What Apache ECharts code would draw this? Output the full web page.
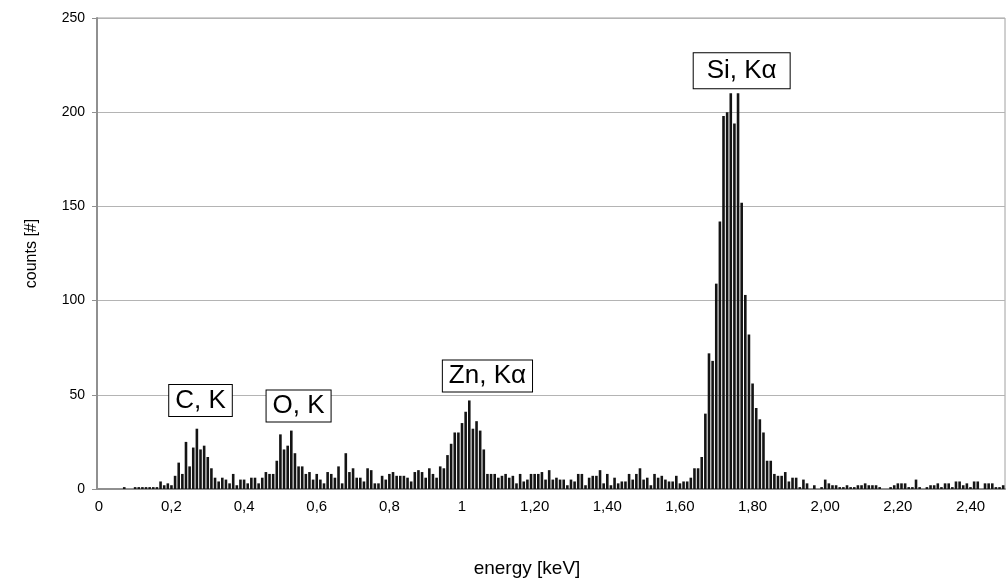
<!DOCTYPE html>
<html style="height: 100%">
<head>
<meta charset="utf-8">
<script src="https://cdn.jsdelivr.net/npm/echarts@6/dist/echarts.min.js"></script>
</head>
<body style="height: 100%; margin: 0; background: #fff">
<div id="container" style="width: 1008px; height: 579px"></div>
<script>
// counts per 0.01 keV channel, channel 0 = 0.00 keV
var counts = [
  0, 0, 0, 0, 0, 0, 0, 1, 0, 0,
  1, 1, 1, 1, 1, 1, 1, 4, 2, 3,
  2, 7, 14, 8, 25, 12, 22, 32, 21, 23,
  17, 11, 6, 4, 6, 5, 3, 8, 2, 5,
  5, 3, 6, 6, 3, 6, 9, 8, 8, 15,
  29, 21, 23, 31, 19, 12, 12, 8, 9, 5,
  8, 5, 3, 9, 8, 6, 12, 3, 19, 9,
  11, 6, 6, 4, 11, 10, 3, 3, 7, 5,
  8, 9, 7, 7, 7, 6, 4, 9, 10, 9,
  6, 11, 8, 6, 12, 11, 18, 24, 30, 30,
  35, 41, 47, 32, 36, 31, 21, 8, 8, 8,
  6, 7, 8, 6, 7, 3, 8, 4, 5, 8,
  8, 8, 9, 5, 10, 5, 6, 5, 5, 2,
  5, 4, 8, 8, 2, 6, 7, 7, 10, 3,
  8, 2, 6, 3, 4, 4, 8, 5, 8, 11,
  5, 6, 2, 8, 6, 7, 5, 4, 4, 7,
  3, 4, 4, 6, 11, 11, 17, 40, 72, 68,
  109, 142, 198, 200, 210, 194, 210, 152, 103, 82,
  56, 43, 37, 30, 15, 15, 8, 7, 7, 9,
  4, 6, 6, 1, 5, 3, 0, 2, 0, 1,
  5, 3, 2, 2, 1, 1, 2, 1, 1, 2,
  2, 3, 2, 2, 2, 1, 0, 0, 1, 2,
  3, 3, 3, 1, 1, 5, 1, 0, 1, 2,
  2, 3, 1, 3, 3, 1, 4, 4, 2, 3,
  1, 4, 4, 0, 3, 3, 3, 1, 1, 2
];

var tickLabels = ['0', '0,2', '0,4', '0,6', '0,8', '1', '1,20', '1,40', '1,60', '1,80', '2,00', '2,20', '2,40'];

// peak annotations: text, channel, count where the box sits
var peakNames = ['C, K', 'O, K', 'Zn, K\u03b1', 'Si, K\u03b1'];
var peakChannels = [28, 55, 107, 177];
var peakLevels = [47, 44, 60, 222];

var channels = [];
for (var i = 0; i < counts.length; i++) {
    channels.push((i / 100).toFixed(2));
}

var dom = document.getElementById('container');
var myChart = echarts.init(dom);

var option = {
    animation: false,
    backgroundColor: '#ffffff',
    textStyle: { fontFamily: 'Liberation Sans, Arial, sans-serif' },
    grid: {
        left: 97,
        right: 3,
        top: 18,
        bottom: 90,
        outerBoundsMode: 'none',
        show: true,
        borderColor: '#a0a0a0',
        borderWidth: 1
    },
    xAxis: {
        type: 'category',
        data: channels,
        boundaryGap: true,
        name: 'energy [keV]',
        nameLocation: 'middle',
        nameGap: 70,
        nameTextStyle: { fontSize: 19, color: '#000', padding: [0, 48, 0, 0] },
        axisLine: { lineStyle: { color: '#909090', width: 2 } },
        axisTick: {
            interval: 19,
            alignWithLabel: true,
            length: 5,
            lineStyle: { color: '#909090' }
        },
        axisLabel: {
            interval: 19,
            fontSize: 15,
            color: '#000',
            margin: 10,
            formatter: function (val, idx) {
                return tickLabels[Math.round(idx / 20)];
            }
        },
        splitLine: { show: false }
    },
    yAxis: {
        type: 'value',
        min: 0,
        max: 250,
        interval: 50,
        name: 'counts [#]',
        nameLocation: 'middle',
        nameGap: 57,
        nameTextStyle: { fontSize: 16, color: '#000' },
        axisLine: { show: true, lineStyle: { color: '#909090', width: 2 } },
        axisTick: { show: true, length: 5, lineStyle: { color: '#909090' } },
        axisLabel: { fontSize: 14, color: '#000', margin: 12 },
        splitLine: { lineStyle: { color: '#b4b4b4', width: 1 } }
    },
    series: [
        {
            type: 'bar',
            data: counts,
            barWidth: 2.6,
            itemStyle: { color: '#141414' },
            markPoint: {
                symbol: 'rect',
                symbolSize: 1,
                itemStyle: { color: 'rgba(0,0,0,0)' },
                label: {
                    show: true,
                    position: 'inside',
                    formatter: function (p) { return p.name; },
                    fontSize: 26,
                    color: '#000',
                    backgroundColor: '#fff',
                    borderColor: '#000',
                    borderWidth: 1,
                    padding: [3, 6, 2, 6]
                },
                data: peakNames.map(function (n, k) {
                    var item = { name: n, coord: [peakChannels[k], peakLevels[k]] };
                    if (k === 3) {
                        item.label = { padding: [5, 13, 4, 13] };
                    }
                    return item;
                })
            }
        }
    ]
};

myChart.setOption(option);
</script>
</body>
</html>
